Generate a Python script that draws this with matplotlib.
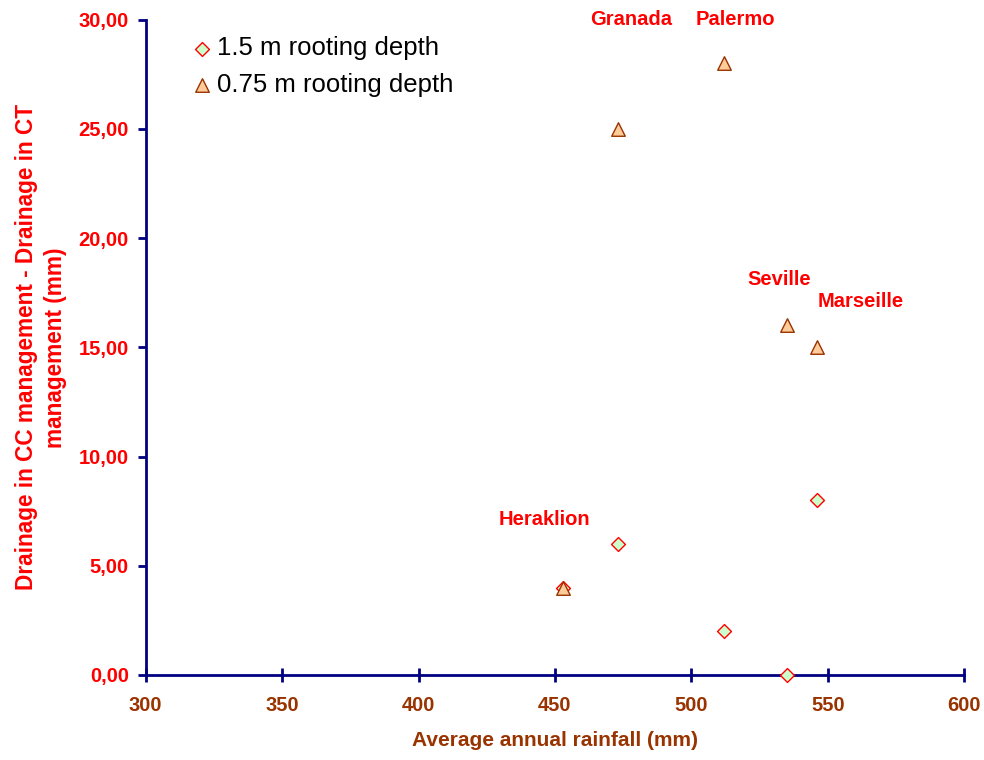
import matplotlib
matplotlib.use("Agg")
import matplotlib.pyplot as plt
from matplotlib.ticker import FuncFormatter

plt.rcParams['font.family'] = ['Liberation Sans', 'DejaVu Sans']

# ----------------------------------------
# Data
rainfall = [453, 473, 512, 535, 546]
drain_150 = [4, 6, 2, 0, 8]        # 1.5 m rooting depth
drain_075 = [4, 25, 28, 16, 15]    # 0.75 m rooting depth

city_names = ["Heraklion", "Granada", "Palermo", "Seville", "Marseille"]
city_x = [446, 478, 516, 532, 562]
city_y = [7.1, 30.0, 30.0, 18.1, 17.1]

navy = "#000080"
brown = "#993300"

# ----------------------------------------
fig = plt.figure(figsize=(9.84, 7.6), dpi=100)
ax = fig.add_axes([0.148, 0.112, 0.832, 0.862])

ax.scatter(rainfall, drain_150, marker='D', s=50, facecolor='#CCFFCC',
           edgecolor='red', linewidth=1.0, label='1.5 m rooting depth',
           zorder=3, clip_on=False)
ax.scatter(rainfall, drain_075, marker='^', s=95, facecolor='#FFCC99',
           edgecolor=brown, linewidth=1.0, label='0.75 m rooting depth',
           zorder=4, clip_on=False)

for name, x, y in zip(city_names, city_x, city_y):
    ax.text(x, y, name, color='red', fontsize=14.5, fontweight='bold',
            ha='center', va='center', clip_on=False)

ax.set_xlim(300, 600)
ax.set_ylim(0, 30)
ax.set_xticks(range(300, 601, 50))
ax.set_yticks(range(0, 31, 5))
ax.yaxis.set_major_formatter(FuncFormatter(lambda v, p: f"{v:.2f}".replace('.', ',')))

for side in ['top', 'right']:
    ax.spines[side].set_visible(False)
for side in ['left', 'bottom']:
    ax.spines[side].set_color(navy)
    ax.spines[side].set_linewidth(2)

ax.tick_params(axis='x', direction='inout', length=10, width=2, color=navy,
               labelcolor=brown, labelsize=14.5, pad=10)
ax.tick_params(axis='y', direction='out', length=6, width=2, color=navy,
               labelcolor='red', labelsize=14.5, pad=6)
for lbl in ax.get_xticklabels() + ax.get_yticklabels():
    lbl.set_fontweight('bold')

ax.set_xlabel('Average annual rainfall (mm)', color=brown, fontsize=15,
              fontweight='bold', labelpad=12)
ax.set_ylabel('Drainage in CC management - Drainage in CT\nmanagement (mm)',
              color='red', fontsize=16.3, fontweight='bold', labelpad=8,
              linespacing=1.35)

ax.legend(loc='upper left', bbox_to_anchor=(0.025, 1.01), frameon=False,
          fontsize=18.5, handletextpad=0.1, labelspacing=0.5, handlelength=1.0,
          markerscale=1.0)

fig.savefig("out.png", dpi=100)
